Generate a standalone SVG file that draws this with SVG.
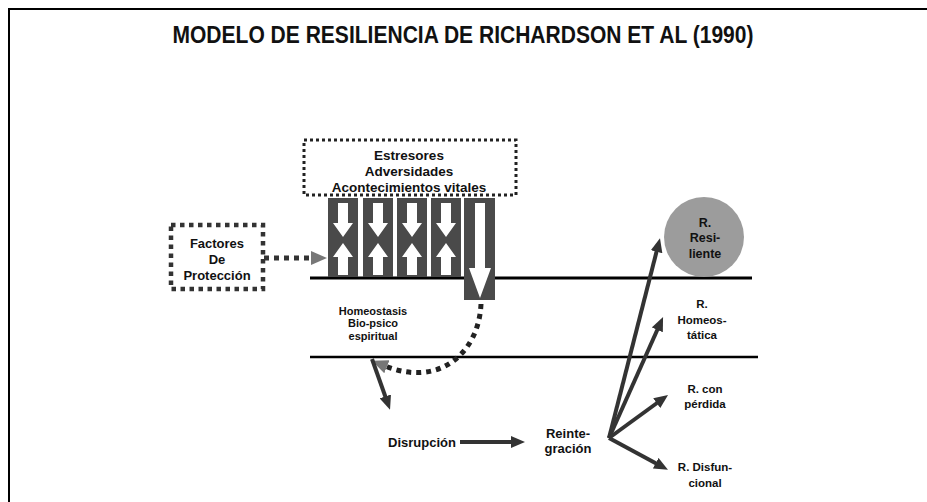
<svg xmlns="http://www.w3.org/2000/svg" width="927" height="502" viewBox="0 0 927 502">
<defs>
<style>
text{font-family:"Liberation Sans",Arial,sans-serif;font-weight:bold;fill:#111;text-anchor:middle}
.col{fill:#4a4a4a}
.wa{fill:#fff}
.dot1{fill:none;stroke:#222;stroke-width:3;stroke-dasharray:3 3}
.dot2{fill:none;stroke:#333;stroke-width:4.5;stroke-dasharray:4.5 4.5}
.hl{stroke:#000;fill:none}
.arr{stroke:#333;stroke-width:4;fill:none;marker-end:url(#ah)}
</style>
<marker id="ah" viewBox="0 0 14 12" refX="8" refY="6" markerWidth="14" markerHeight="12" markerUnits="userSpaceOnUse" orient="auto">
<path d="M0,0 L14,6 L0,12 z" fill="#333"/>
</marker>
<marker id="ahg" viewBox="0 0 16 14" refX="2" refY="7" markerWidth="16" markerHeight="14" markerUnits="userSpaceOnUse" orient="auto">
<path d="M0,0 L16,7 L0,14 z" fill="#777"/>
</marker>
</defs>
<rect width="927" height="502" fill="#fff"/>
<path d="M9,502 V9 H927" fill="none" stroke="#000" stroke-width="2"/>

<text x="463" y="43" font-size="24" textLength="581" lengthAdjust="spacingAndGlyphs">MODELO DE RESILIENCIA DE RICHARDSON ET AL (1990)</text>

<g id="lines">
<line class="hl" x1="310" y1="278" x2="752" y2="278" stroke-width="3"/>
<line class="hl" x1="310" y1="357" x2="758" y2="357" stroke-width="2.5"/>
</g>

<g id="estresores">
<rect class="dot1" x="304" y="140" width="212" height="55"/>
<text x="409" y="160" font-size="13.5">Estresores</text>
<text x="409" y="176" font-size="13.5">Adversidades</text>
<text x="409" y="192" font-size="13.5">Acontecimientos vitales</text>
</g>

<g id="columnas">
<rect class="col" x="328" y="198" width="30" height="79"/>
<rect class="col" x="363" y="198" width="30" height="79"/>
<rect class="col" x="397" y="198" width="30" height="79"/>
<rect class="col" x="431" y="198" width="30" height="79"/>
<rect class="col" x="464" y="198" width="31" height="102"/>
<g class="wa">
<path d="M338,203 h10 v20 h5 l-10,14 l-10,-14 h5 z"/>
<path d="M343,243 l10,14 h-5 v18 h-10 v-18 h-5 z"/>
<path d="M373,203 h10 v20 h5 l-10,14 l-10,-14 h5 z"/>
<path d="M378,243 l10,14 h-5 v18 h-10 v-18 h-5 z"/>
<path d="M407,203 h10 v20 h5 l-10,14 l-10,-14 h5 z"/>
<path d="M412,243 l10,14 h-5 v18 h-10 v-18 h-5 z"/>
<path d="M441,203 h10 v20 h5 l-10,14 l-10,-14 h5 z"/>
<path d="M446,243 l10,14 h-5 v18 h-10 v-18 h-5 z"/>
<path d="M475,203 h10 v65 h6 l-11,30 l-11,-30 h6 z"/>
</g>
</g>

<g id="factores">
<rect class="dot2" x="171" y="225" width="92" height="64"/>
<text x="217" y="248" font-size="13">Factores</text>
<text x="217" y="264" font-size="13">De</text>
<text x="217" y="280" font-size="13">Protección</text>
</g>

<g id="homeostasis">
<text x="373" y="315" font-size="11">Homeostasis</text>
<text x="373" y="327" font-size="11">Bio-psico</text>
<text x="373" y="340" font-size="11">espiritual</text>
</g>

<g id="disrupcion"><text x="422" y="447" font-size="13">Disrupción</text></g>
<g id="reintegracion">
<text x="568" y="438" font-size="13">Reinte-</text>
<text x="568" y="453" font-size="13">gración</text>
</g>

<g id="resiliente">
<circle cx="704" cy="237" r="40" fill="#9c9c9c"/>
<text x="705" y="227" font-size="12.5">R.</text>
<text x="705" y="242" font-size="12.5">Resi-</text>
<text x="705" y="258" font-size="12.5">liente</text>
</g>
<g id="homeostatica">
<text x="702" y="308" font-size="11.5">R.</text>
<text x="702" y="324" font-size="11.5">Homeos-</text>
<text x="702" y="339" font-size="11.5">tática</text>
</g>
<g id="perdida">
<text x="705" y="393" font-size="11.5">R. con</text>
<text x="705" y="408" font-size="11.5">pérdida</text>
</g>
<g id="disfuncional">
<text x="705" y="471" font-size="11.5">R. Disfun-</text>
<text x="705" y="487" font-size="11.5">cional</text>
</g>

<g id="connectors">
<path d="M264,258 H313" fill="none" stroke="#333" stroke-width="5" stroke-dasharray="5 5" marker-end="url(#ahg)"/>
<path d="M481,304 C479,352 440,388 385,366" fill="none" stroke="#222" stroke-width="5" stroke-dasharray="5 5" marker-end="url(#ahg)"/>
<line class="arr" x1="372" y1="359" x2="388" y2="404"/>
<line class="arr" x1="460" y1="442" x2="519" y2="442" stroke-width="5"/>
<line class="arr" x1="609" y1="438" x2="658.5" y2="244"/>
<line class="arr" x1="609" y1="438" x2="660.6" y2="322.5"/>
<line class="arr" x1="609" y1="438" x2="663.2" y2="398.5"/>
<line class="arr" x1="609" y1="438" x2="662.7" y2="467"/>
</g>
</svg>
